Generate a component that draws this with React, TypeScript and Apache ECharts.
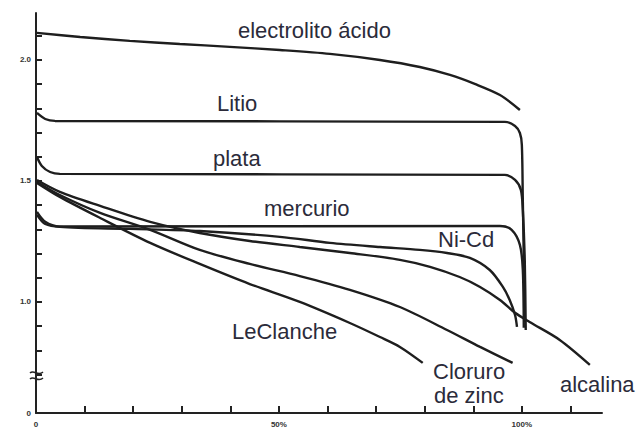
import React, { useEffect, useRef } from "react";
import * as echarts from "echarts";

type Pt = [number, number];

const electrolito: Pt[] = [[0.2,2.112],[9.1,2.095],[19.3,2.079],[29.6,2.066],[39.9,2.054],[50.2,2.041],[60.5,2.025],[70.8,2.000],[79.0,1.971],[85.2,1.938],[90.3,1.901],[95.5,1.855],[99.6,1.793]];
const litio: Pt[] = [[0.2,1.781],[1.9,1.756],[3.9,1.748],[96.5,1.744],[98.6,1.727],[99.6,1.698],[100.0,1.649],[100.2,1.421],[100.4,1.174],[100.5,0.917]];
const plata: Pt[] = [[0.2,1.599],[1.2,1.562],[2.9,1.537],[4.9,1.529],[96.5,1.525],[98.6,1.504],[99.8,1.463],[100.2,1.380],[100.6,1.174],[100.8,0.884]];
const mercurio: Pt[] = [[0.2,1.360],[1.9,1.322],[4.9,1.312],[95.5,1.314],[97.9,1.298],[99.6,1.236],[100.2,1.132],[100.4,0.893]];
const niCd: Pt[] = [[0.2,1.372],[1.9,1.331],[4.9,1.310],[19.3,1.302],[33.7,1.293],[50.2,1.269],[60.5,1.244],[70.8,1.227],[79.0,1.215],[84.6,1.202],[89.3,1.182],[93.4,1.132],[96.1,1.062],[97.5,1.008],[98.6,0.946],[99.0,0.897]];
const alcalina: Pt[] = [[0.2,1.504],[4.9,1.455],[13.2,1.397],[23.5,1.331],[33.7,1.285],[44.0,1.252],[54.3,1.227],[64.6,1.202],[74.9,1.174],[81.1,1.145],[87.2,1.103],[91.4,1.062],[95.5,1.008],[98.6,0.955],[101.6,0.917],[107.8,0.843],[114.0,0.740]];
const cloruro: Pt[] = [[0.2,1.496],[4.9,1.442],[13.2,1.368],[23.5,1.298],[33.7,1.215],[44.0,1.157],[54.3,1.107],[64.6,1.050],[74.9,0.979],[84.6,0.884],[91.4,0.814],[98.1,0.748]];
const leClanche: Pt[] = [[0.2,1.492],[4.9,1.434],[13.2,1.347],[23.5,1.244],[33.7,1.157],[44.0,1.074],[54.3,1.000],[64.6,0.913],[70.8,0.855],[74.9,0.814],[79.6,0.748]];

const yTickValues = [0.7, 0.8, 0.9, 1.0, 1.1, 1.2, 1.3, 1.4, 1.5, 1.6, 1.7, 1.8, 1.9, 2.0, 2.1];
const yLabelValues = [0.541, 1.0, 1.5, 2.0];
const xTickValues = [10, 20, 30, 40, 50, 60, 70, 80, 90, 100, 110];
const xLabelValues = [0, 50, 100];

const seriesList: { name: string; data: Pt[] }[] = [
  { name: "electrolito ácido", data: electrolito },
  { name: "Litio", data: litio },
  { name: "plata", data: plata },
  { name: "mercurio", data: mercurio },
  { name: "Ni-Cd", data: niCd },
  { name: "alcalina", data: alcalina },
  { name: "Cloruro de zinc", data: cloruro },
  { name: "LeClanche", data: leClanche },
];

const labelTexts: { text: string; x: number; y: number }[] = [
  { text: "electrolito ácido", x: 238, y: 30 },
  { text: "Litio", x: 217, y: 103 },
  { text: "plata", x: 213, y: 158 },
  { text: "mercurio", x: 264, y: 208 },
  { text: "Ni-Cd", x: 438, y: 239 },
  { text: "LeClanche", x: 232, y: 331 },
  { text: "Cloruro", x: 433, y: 371 },
  { text: "de zinc", x: 434, y: 395 },
  { text: "alcalina", x: 560, y: 384 },
];

export default function App() {
  const ref = useRef<HTMLDivElement>(null);
  useEffect(() => {
    document.body.style.margin = "0";
    if (!ref.current) return;
    const chart = echarts.init(ref.current, null, { renderer: "svg" });
    const lineColor = "#1e1e1e";
    chart.setOption({
      animation: false,
      backgroundColor: "#ffffff",
      grid: { left: 36, right: 35, top: 13, bottom: 30 },
      xAxis: {
        type: "value",
        min: 0,
        max: 116.5,
        splitLine: { show: false },
        axisLine: { show: true, onZero: false, lineStyle: { color: "#222", width: 2 } },
        axisTick: { show: true, inside: true, length: 7, customValues: xTickValues, lineStyle: { color: "#222", width: 2 } },
        axisLabel: {
          customValues: xLabelValues,
          formatter: (v: number) => (v === 0 ? "0" : v + "%"),
          fontSize: 8,
          fontWeight: "bold",
          color: "#333",
          margin: 7,
        },
      },
      yAxis: {
        type: "value",
        min: 0.541,
        max: 2.194,
        splitLine: { show: false },
        axisLine: { show: true, onZero: false, lineStyle: { color: "#222", width: 2 } },
        axisTick: { show: true, inside: true, length: 6, customValues: yTickValues, lineStyle: { color: "#222", width: 2 } },
        axisLabel: {
          customValues: yLabelValues,
          formatter: (v: number) => (v < 0.6 ? "0" : v.toFixed(1)),
          fontSize: 8,
          fontWeight: "bold",
          color: "#333",
          margin: 5,
        },
      },
      series: seriesList.map((s) => ({
        type: "line",
        name: s.name,
        data: s.data,
        smooth: 0.3,
        showSymbol: false,
        lineStyle: { color: lineColor, width: 2.4 },
      })),
      graphic: [
        ...labelTexts.map((t) => ({
          type: "text",
          x: t.x,
          y: t.y,
          style: {
            text: t.text,
            fontSize: 22,
            fontFamily: "Liberation Sans, Arial, sans-serif",
            fill: "#2b2b3a",
            textVerticalAlign: "middle",
          },
        })),
        {
          type: "bezierCurve",
          shape: { x1: 30, y1: 373, cpx1: 34, cpy1: 369, cpx2: 38, cpy2: 377, x2: 43, y2: 372 },
          style: { stroke: "#222", lineWidth: 1.5, fill: "none" },
        },
        {
          type: "bezierCurve",
          shape: { x1: 30, y1: 379, cpx1: 34, cpy1: 375, cpx2: 38, cpy2: 383, x2: 43, y2: 378 },
          style: { stroke: "#222", lineWidth: 1.5, fill: "none" },
        },
      ],
    });
    return () => chart.dispose();
  }, []);
  return <div ref={ref} style={{ width: 637, height: 443 }} />;
}
